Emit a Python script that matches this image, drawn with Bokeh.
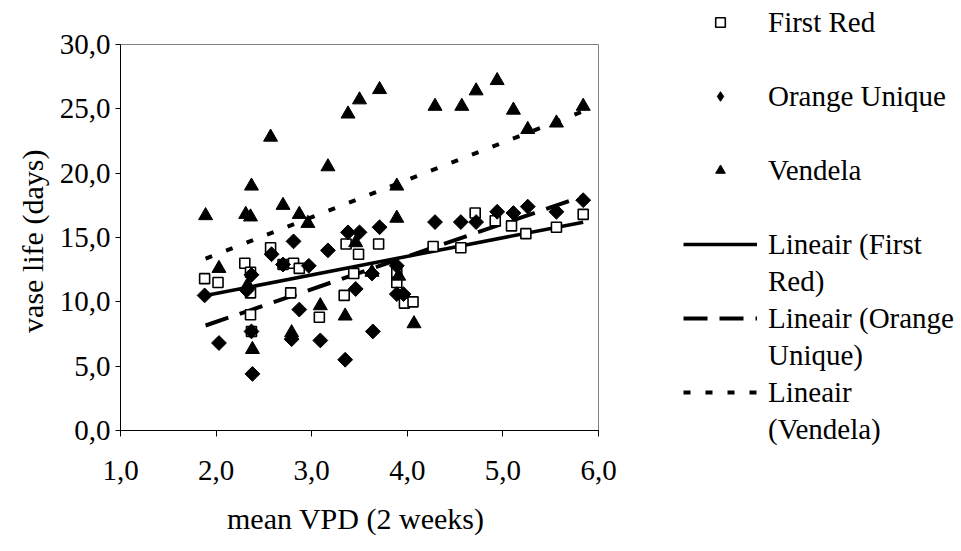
import numpy as np
from bokeh.plotting import figure
from bokeh.layouts import row
from bokeh.models import Legend, LegendItem, FixedTicker, Range1d
from bokeh.embed import file_html
from bokeh.resources import INLINE

# ---------------- data ----------------
vpd_first_red = [1.88, 2.02, 2.30, 2.36, 2.36, 2.36, 2.37, 2.57, 2.70, 2.81, 2.87, 2.78, 3.08, 3.34, 3.36,
                 3.44, 3.49, 3.70, 3.89, 3.89, 3.97, 4.06, 4.27, 4.56, 4.71, 4.92, 5.09, 5.24, 5.56, 5.84]
life_first_red = [11.8, 11.5, 13.0, 12.3, 10.7, 9.0, 7.7, 14.2, 12.9, 13.0, 12.6, 10.7, 8.8, 10.5, 14.5,
                  12.2, 13.7, 14.5, 12.3, 11.5, 9.9, 10.0, 14.3, 14.2, 16.9, 16.3, 15.9, 15.3, 15.8, 16.8]

vpd_orange = [1.88, 2.03, 2.37, 2.32, 2.37, 2.38, 2.58, 2.70, 2.81, 2.79, 2.87, 2.97, 3.09, 3.17, 3.35, 3.38,
              3.46, 3.50, 3.64, 3.63, 3.71, 3.89, 3.89, 3.96, 4.29, 4.56, 4.72, 4.94, 5.11, 5.26, 5.56, 5.84]
life_orange = [10.5, 6.8, 12.1, 10.9, 7.7, 4.4, 13.7, 12.9, 14.7, 7.1, 9.4, 12.8, 7.0, 14.0, 5.5, 15.4,
               11.0, 15.4, 7.7, 12.2, 15.8, 12.8, 10.6, 10.6, 16.2, 16.2, 16.2, 17.0, 16.9, 17.4, 17.0, 17.9]

vpd_vendela = [1.89, 2.03, 2.31, 2.36, 2.37, 2.33, 2.38, 2.57, 2.70, 2.79, 2.87, 2.96, 3.09, 3.17, 3.35, 3.38,
               3.46, 3.50, 3.63, 3.71, 3.89, 3.89, 3.91, 4.07, 4.29, 4.57, 4.72, 4.94, 5.11, 5.26, 5.56, 5.84]
life_vendela = [16.7, 12.6, 16.8, 16.6, 19.0, 11.3, 6.3, 22.8, 17.5, 7.6, 16.8, 16.1, 9.7, 20.5, 8.9, 24.6,
                14.6, 25.7, 12.3, 26.5, 19.0, 16.5, 12.0, 8.3, 25.2, 25.2, 26.4, 27.2, 24.9, 23.4, 23.9, 25.2]

# linear trendlines (end points)
trend_vpd = [1.89, 5.84]
trend_first_red = [10.49, 16.19]
trend_orange = [8.16, 18.21]
trend_vendela = [13.35, 24.82]

x_ticks = [1, 2, 3, 4, 5, 6]
x_tick_labels = ["1,0", "2,0", "3,0", "4,0", "5,0", "6,0"]
y_ticks = [0, 5, 10, 15, 20, 25, 30]
y_tick_labels = ["0,0", "5,0", "10,0", "15,0", "20,0", "25,0", "30,0"]

series_names = ["First Red", "Orange Unique", "Vendela"]
trend_label_lines = [["Lineair (First", "Red)"], ["Lineair (Orange", "Unique)"], ["Lineair", "(Vendela)"]]

x_title = "mean VPD  (2 weeks)"
y_title = "vase life  (days)"

FONT = "Liberation Serif"
FS_TICK = "29px"
FS_TITLE = "30px"
FS_LEG = "29px"

# styles
sq_style = dict(fill_color="white", line_color="black", line_width=1.6)
dm_style = dict(fill_color="black", line_color="black", line_width=1)
tr_style = dict(fill_color="black", line_color="black", line_width=1)
fr_line = dict(line_color="black", line_width=3.5)
ou_line = dict(line_color="black", line_width=4, line_dash="24 12")
ve_line = dict(line_color="black", line_width=4, line_dash="7 15")

# ---------------- main chart ----------------
p = figure(width=618, height=551, output_backend="svg", toolbar_location=None,
           x_range=Range1d(1, 6), y_range=Range1d(0, 30),
           min_border_left=120, min_border_right=20, min_border_top=44, min_border_bottom=121)
p.grid.visible = False
p.outline_line_color = "#808080"
p.outline_line_width = 1
p.background_fill_color = "white"
p.border_fill_color = "white"

for ax in (p.xaxis, p.yaxis):
    ax.axis_line_color = "black"
    ax.axis_line_width = 1
    ax.major_tick_line_color = "black"
    ax.major_tick_out = 6
    ax.major_tick_in = 0
    ax.minor_tick_line_color = None
    ax.major_label_text_font = FONT
    ax.major_label_text_font_size = FS_TICK
    ax.major_label_text_color = "black"
    ax.axis_label_text_font = FONT
    ax.axis_label_text_font_size = FS_TITLE
    ax.axis_label_text_font_style = "normal"
    ax.axis_label_text_color = "black"

p.xaxis.ticker = FixedTicker(ticks=x_ticks)
p.yaxis.ticker = FixedTicker(ticks=y_ticks)
p.xaxis.major_label_overrides = {t: l for t, l in zip(x_ticks, x_tick_labels)}
p.yaxis.major_label_overrides = {t: l for t, l in zip(y_ticks, y_tick_labels)}
p.xaxis.axis_label = x_title
p.yaxis.axis_label = y_title
p.xaxis.major_label_standoff = 24
p.xaxis.axis_label_standoff = 19
p.yaxis.major_tick_out = 5
p.yaxis.major_label_standoff = 5
p.yaxis.axis_label_standoff = 8

# trendlines
p.line(trend_vpd, trend_first_red, **fr_line)
p.line(trend_vpd, trend_orange, **ou_line)
p.line(trend_vpd, trend_vendela, **ve_line)

# points
p.scatter(vpd_first_red, life_first_red, marker="square", size=10, **sq_style)
p.scatter(vpd_orange, life_orange, marker="square", angle=np.pi / 4, size=10.5, **dm_style)
p.scatter(vpd_vendela, life_vendela, marker="triangle", size=14, **tr_style)

# ---------------- legend panel ----------------
q = figure(width=343, height=551, output_backend="svg", toolbar_location=None, title=None,
           x_range=Range1d(0, 1), y_range=Range1d(0, 1),
           x_axis_type=None, y_axis_type=None,
           min_border_left=0, min_border_right=0, min_border_top=0, min_border_bottom=0)
q.outline_line_color = None
q.background_fill_color = "white"
q.border_fill_color = "white"
try:
    p.frame_align = False
    q.frame_align = False
except AttributeError:
    pass

# legend-key renderers (no visible data in this panel)
nan1 = np.array([np.nan])
k_fr = q.scatter(nan1, nan1, marker="square", **sq_style)
k_ou = q.scatter(nan1, nan1, marker="diamond", **dm_style)
k_ve = q.scatter(nan1, nan1, marker="triangle", **tr_style)
k_l1 = q.line(nan1, nan1, **fr_line)
k_l2 = q.line(nan1, nan1, **ou_line)
k_l3 = q.line(nan1, nan1, **ve_line)
blank = q.line(nan1, nan1, line_alpha=0)

items = []
for rend, name in zip([k_fr, k_ou, k_ve], series_names):
    items.append(LegendItem(label=name, renderers=[rend]))
    items.append(LegendItem(label=" ", renderers=[blank]))
for rend, lines in zip([k_l1, k_l2, k_l3], trend_label_lines):
    items.append(LegendItem(label=lines[0], renderers=[rend]))
    items.append(LegendItem(label=lines[1], renderers=[blank]))

legend = Legend(items=items, location=(65, 105),
                label_text_font=FONT, label_text_font_size=FS_LEG, label_text_color="black",
                glyph_width=74, glyph_height=24, label_height=34, spacing=3,
                label_standoff=11, padding=0, margin=0,
                border_line_alpha=0, background_fill_alpha=0)
q.add_layout(legend, "center")

layout = row(p, q, spacing=0)
open("out.html", "w").write(file_html(layout, INLINE))
